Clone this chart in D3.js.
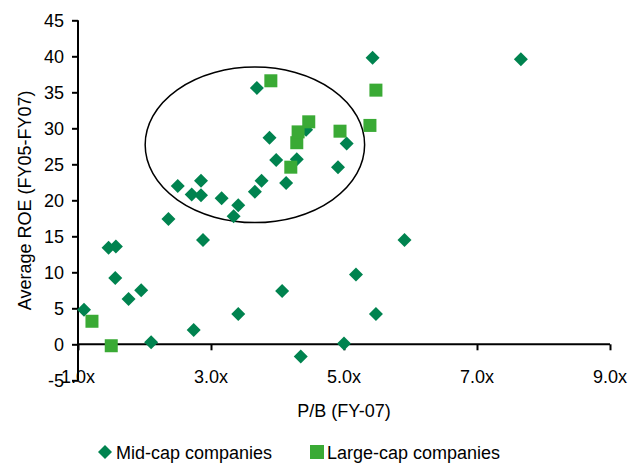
<!DOCTYPE html>
<html>
<head>
<meta charset="utf-8">
<script src="https://cdn.jsdelivr.net/npm/d3@7"></script>
<style>
  html, body { margin: 0; padding: 0; background: #ffffff; }
  svg { display: block; font-family: "Liberation Sans", Arial, sans-serif; }
</style>
</head>
<body>
<svg id="chart" width="643" height="464"></svg>
<script>
// ---- Data ----
const midCapPB  = [1.09, 1.46, 1.57, 1.56, 1.76, 1.95, 2.10, 2.36, 2.50, 2.71, 2.85, 2.85, 2.88, 2.74, 3.16, 3.34, 3.41, 3.41, 3.66, 3.69, 3.76, 3.88, 3.98, 4.07, 4.13, 4.29, 4.35, 4.43, 4.91, 5.00, 5.04, 5.18, 5.43, 5.48, 5.91, 7.66];
const midCapROE = [4.8, 13.4, 13.6, 9.2, 6.3, 7.5, 0.3, 17.4, 22.0, 20.8, 20.7, 22.7, 14.5, 2.0, 20.3, 17.8, 19.3, 4.2, 21.2, 35.6, 22.7, 28.7, 25.6, 7.4, 22.4, 25.7, -1.7, 29.8, 24.6, 0.1, 27.9, 9.7, 39.8, 4.2, 14.5, 39.6];
const largeCapPB  = [1.21, 1.50, 3.90, 4.20, 4.29, 4.31, 4.47, 4.94, 5.39, 5.48];
const largeCapROE = [3.2, -0.2, 36.6, 24.6, 28.0, 29.5, 30.9, 29.6, 30.4, 35.3];
const xTicks = [1, 3, 5, 7, 9];
const xTickLabels = ["1.0x", "3.0x", "5.0x", "7.0x", "9.0x"];
const yTicks = [-5, 0, 5, 10, 15, 20, 25, 30, 35, 40, 45];
const yTickLabels = ["-5", "0", "5", "10", "15", "20", "25", "30", "35", "40", "45"];
const seriesNames = ["Mid-cap companies", "Large-cap companies"];
const xTitle = "P/B (FY-07)";
const yTitle = "Average ROE (FY05-FY07)";
// highlight ellipse annotation (data units)
const ellipseCenter = [3.66, 27.7];
const ellipseRadii = [1.65, 10.8];

// ---- Styles ----
const midColor = "#00834F";
const largeColor = "#3AAA35";
const fontSize = 18;

const svg = d3.select("#chart");
const x = d3.scaleLinear().domain([1, 9]).range([78, 610]);
const y = d3.scaleLinear().domain([-5, 45]).range([380.3, 20.3]);

// Y axis
const yAxis = svg.append("g")
  .attr("transform", `translate(${x(1)},0)`)
  .call(d3.axisLeft(y).tickValues(yTicks).tickSize(6).tickPadding(8)
    .tickFormat((d, i) => yTickLabels[i]));
yAxis.select(".domain").attr("stroke", "#000").attr("stroke-width", 2).attr("d", `M0,${y(-5)}V${y(45)}`);
yAxis.selectAll(".tick line").attr("stroke", "#000").attr("stroke-width", 2);
yAxis.selectAll(".tick text").attr("font-size", fontSize).attr("fill", "#000")
  .attr("font-family", "Liberation Sans, Arial, sans-serif");

// X axis (crossing at y = 0), labels at the bottom
const xAxis = svg.append("g")
  .attr("transform", `translate(0,${y(0)})`)
  .call(d3.axisBottom(x).tickValues(xTicks).tickSize(6).tickFormat(""));
xAxis.select(".domain").attr("stroke", "#000").attr("stroke-width", 2).attr("d", `M${x(1)},0H${x(9)}`);
xAxis.selectAll(".tick line").attr("stroke", "#000").attr("stroke-width", 2);

svg.append("g").selectAll("text").data(xTicks).join("text")
  .attr("x", d => x(d))
  .attr("y", 383)
  .attr("text-anchor", "middle")
  .attr("font-size", fontSize)
  .attr("fill", "#000")
  .text((d, i) => xTickLabels[i]);

// Axis titles
svg.append("text")
  .attr("x", (x(1) + x(9)) / 2)
  .attr("y", 417)
  .attr("text-anchor", "middle")
  .attr("font-size", fontSize)
  .attr("fill", "#000")
  .text(xTitle);

svg.append("text")
  .attr("transform", `translate(31,${(y(-5) + y(45)) / 2}) rotate(-90)`)
  .attr("text-anchor", "middle")
  .attr("font-size", fontSize)
  .attr("fill", "#000")
  .text(yTitle);

// Ellipse annotation
svg.append("ellipse")
  .attr("cx", x(ellipseCenter[0]))
  .attr("cy", y(ellipseCenter[1]))
  .attr("rx", x(ellipseCenter[0] + ellipseRadii[0]) - x(ellipseCenter[0]))
  .attr("ry", y(ellipseCenter[1]) - y(ellipseCenter[1] + ellipseRadii[1]))
  .attr("fill", "none")
  .attr("stroke", "#000")
  .attr("stroke-width", 1.5);

// Marker shapes
const diamondPath = r => `M0,${-r}L${r},0L0,${r}L${-r},0Z`;
const squareHalf = 6.5;

const midData = midCapPB.map((v, i) => ({ x: v, y: midCapROE[i] }));
const largeData = largeCapPB.map((v, i) => ({ x: v, y: largeCapROE[i] }));

svg.append("g").selectAll("path").data(midData).join("path")
  .attr("transform", d => `translate(${x(d.x)},${y(d.y)})`)
  .attr("d", diamondPath(7))
  .attr("fill", midColor);

svg.append("g").selectAll("rect").data(largeData).join("rect")
  .attr("x", d => x(d.x) - squareHalf)
  .attr("y", d => y(d.y) - squareHalf)
  .attr("width", squareHalf * 2)
  .attr("height", squareHalf * 2)
  .attr("fill", largeColor);

// Legend
const legend = svg.append("g");
legend.append("path")
  .attr("transform", "translate(105,452)")
  .attr("d", diamondPath(7))
  .attr("fill", midColor);
legend.append("text")
  .attr("x", 116).attr("y", 458.5)
  .attr("font-size", fontSize).attr("fill", "#000")
  .text(seriesNames[0]);
legend.append("rect")
  .attr("x", 310).attr("y", 445).attr("width", 14).attr("height", 14)
  .attr("fill", largeColor);
legend.append("text")
  .attr("x", 327).attr("y", 458.5)
  .attr("font-size", fontSize).attr("fill", "#000")
  .text(seriesNames[1]);
</script>
</body>
</html>
